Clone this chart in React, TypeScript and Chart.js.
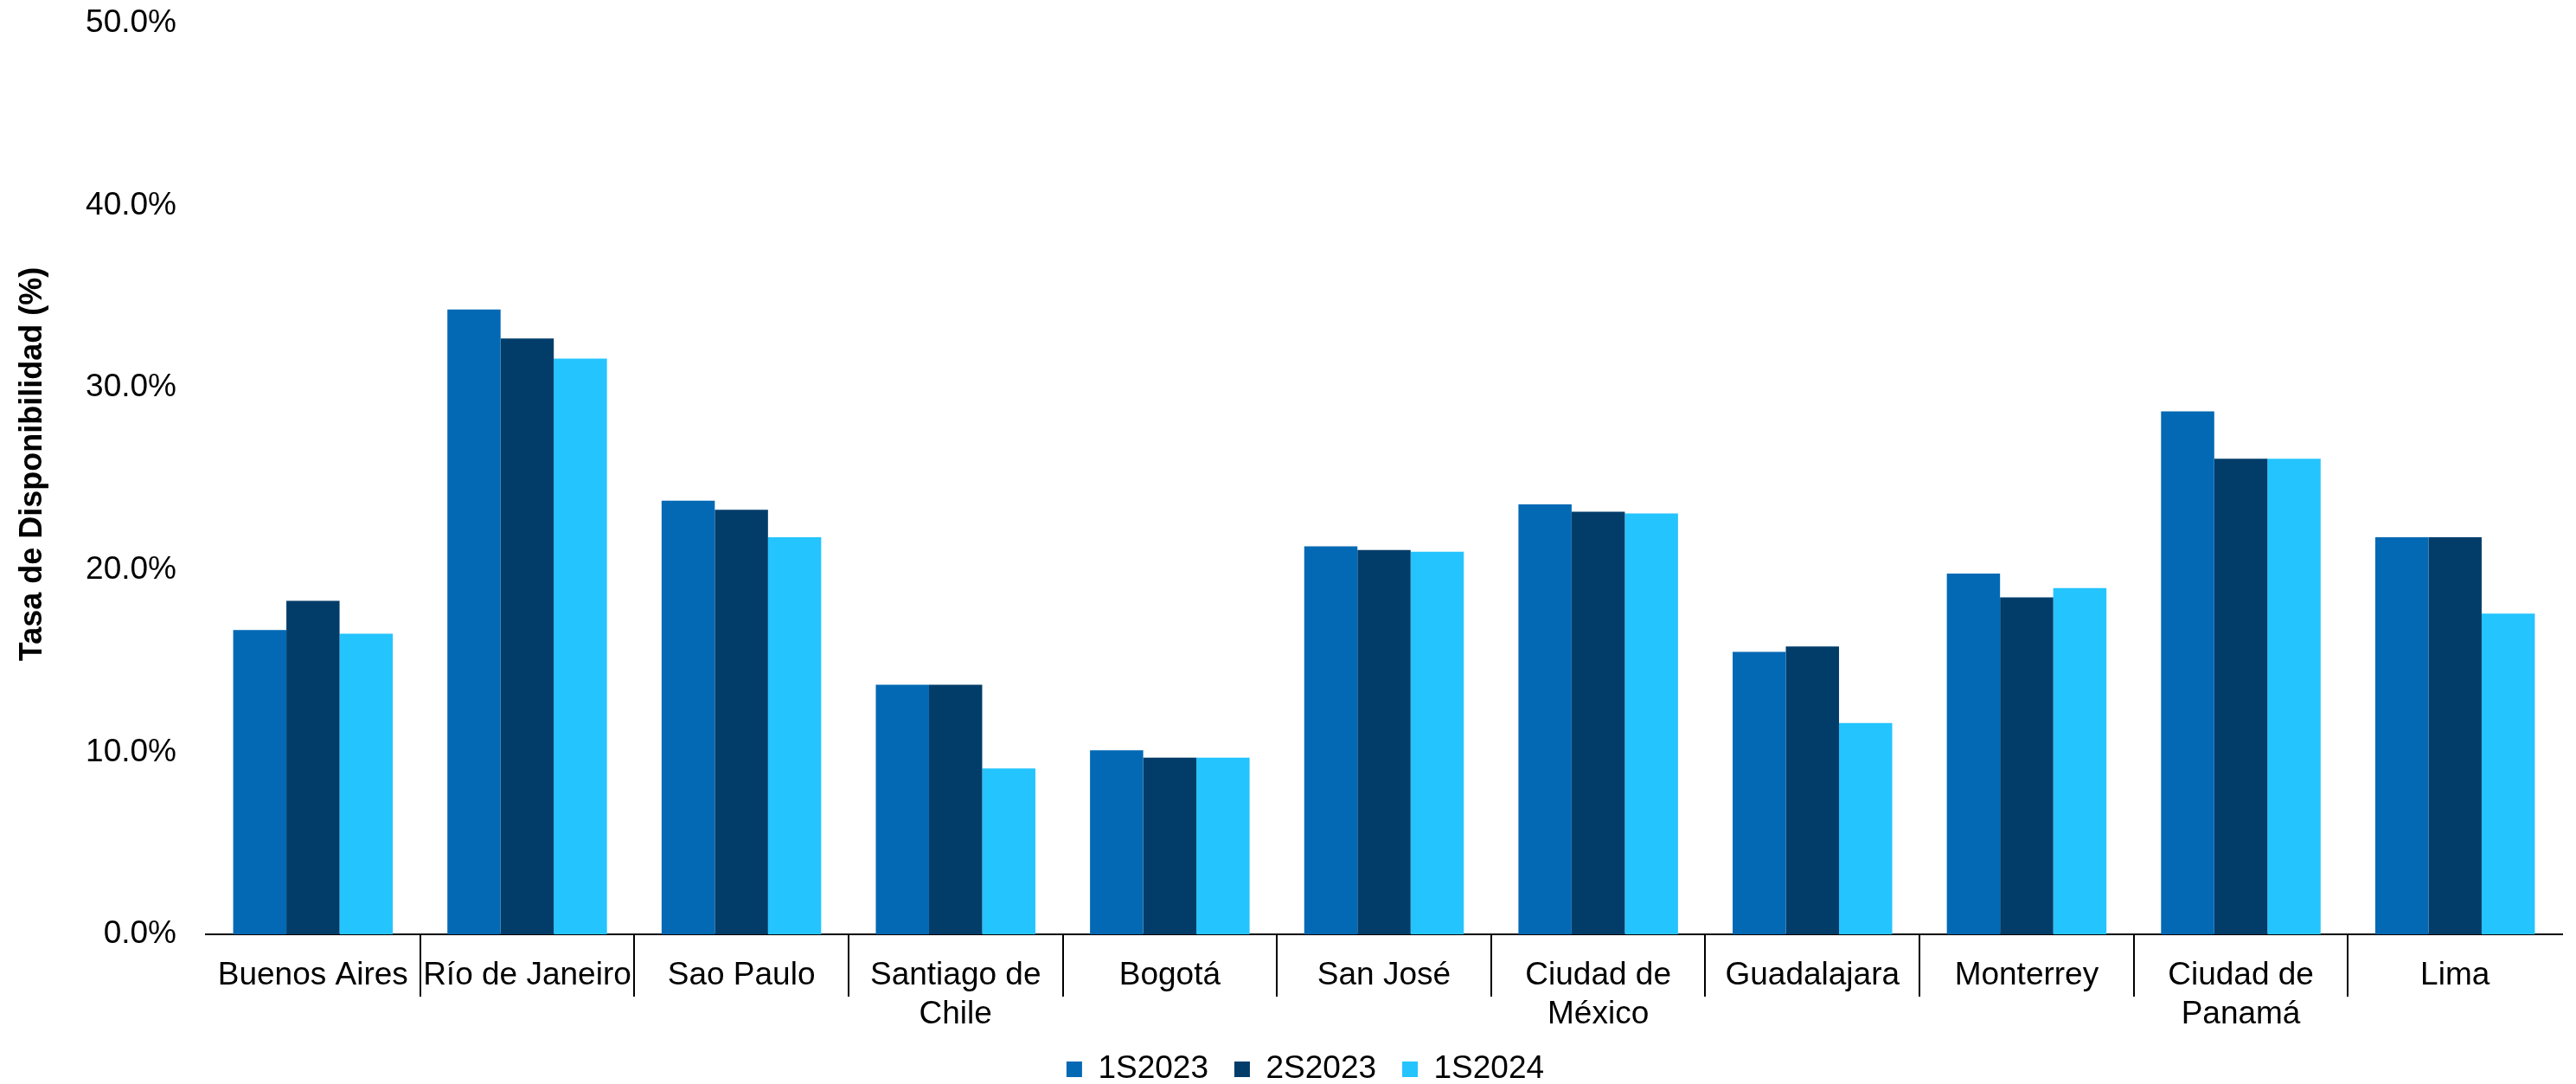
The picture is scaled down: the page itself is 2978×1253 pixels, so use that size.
import React, { useEffect, useRef } from 'react';
import { Chart, registerables } from 'chart.js';

Chart.register(...registerables);

const categories: (string | string[])[] = [
  'Buenos Aires',
  'Río de Janeiro',
  'Sao Paulo',
  ['Santiago de', 'Chile'],
  'Bogotá',
  'San José',
  ['Ciudad de', 'México'],
  'Guadalajara',
  'Monterrey',
  ['Ciudad de', 'Panamá'],
  'Lima',
];

const seriesNames = ['1S2023', '2S2023', '1S2024'];
const seriesColors = ['#0369B4', '#023D6A', '#24C4FF'];

const s1S2023 = [16.7, 34.3, 23.8, 13.7, 10.1, 21.3, 23.6, 15.5, 19.8, 28.7, 21.8];
const s2S2023 = [18.3, 32.7, 23.3, 13.7, 9.7, 21.1, 23.2, 15.8, 18.5, 26.1, 21.8];
const s1S2024 = [16.5, 31.6, 21.8, 9.1, 9.7, 21.0, 23.1, 11.6, 19.0, 26.1, 17.6];

const yMin = 0;
const yMax = 50;
const yStep = 10;
const yTitle = 'Tasa de Disponibilidad (%)';

const FONT = "'Liberation Sans', Arial, sans-serif";
const TITLE_SHIFT = 17;

// Small layout nudges: legend slightly right of canvas centre,
// y title slightly above the plot centre (shift only while the scale draws).
const layoutNudge = {
  id: 'layoutNudge',
  afterLayout(chart: any) {
    const lg = chart.legend;
    if (lg) {
      lg.left += 28;
      lg.right += 28;
    }
  },
  beforeDraw(chart: any) {
    const y = chart.scales.y;
    if (y) {
      y.top -= TITLE_SHIFT;
      y.bottom -= TITLE_SHIFT;
    }
  },
  beforeDatasetsDraw(chart: any) {
    const y = chart.scales.y;
    if (y) {
      y.top += TITLE_SHIFT;
      y.bottom += TITLE_SHIFT;
    }
  },
};

export default function App() {
  const ref = useRef<HTMLCanvasElement>(null);

  useEffect(() => {
    document.body.style.margin = '0';
    document.body.style.overflow = 'hidden';
    const canvas = ref.current;
    if (!canvas) return;
    const values = [s1S2023, s2S2023, s1S2024];
    const chart = new Chart(canvas, {
      type: 'bar',
      data: {
        labels: categories,
        datasets: values.map((v, i) => ({
          label: seriesNames[i],
          data: v,
          backgroundColor: seriesColors[i],
          borderWidth: 0,
          categoryPercentage: 0.745,
          barPercentage: 1,
        })),
      },
      options: {
        responsive: false,
        animation: false,
        devicePixelRatio: 1,
        layout: { padding: { top: 27, left: 0, right: 16, bottom: -11.5 } },
        plugins: {
          legend: {
            position: 'bottom',
            labels: {
              font: { family: FONT, size: 37 },
              color: '#000',
              boxWidth: 18,
              boxHeight: 18,
              padding: 30,
            },
          },
          tooltip: { enabled: false },
        },
        scales: {
          x: {
            grid: {
              display: true,
              drawOnChartArea: false,
              drawTicks: true,
              tickLength: 72,
              offset: true,
              lineWidth: 2,
              color: (ctx: any) =>
                ctx.type === 'tick' && ctx.index > 0 ? '#000' : 'rgba(0,0,0,0)',
            },
            border: { display: true, color: '#000', width: 2 },
            ticks: {
              font: { family: FONT, size: 37 },
              color: '#000',
              padding: -46,
              maxRotation: 0,
              minRotation: 0,
              autoSkip: false,
            },
            afterFit: (s: any) => {
              s.height = 107.5;
              s.paddingLeft = 0;
              s.paddingRight = 0;
            },
          },
          y: {
            min: yMin,
            max: yMax,
            ticks: {
              stepSize: yStep,
              callback: (v: any) => Number(v).toFixed(1) + '%',
              font: { family: FONT, size: 37 },
              color: '#000',
              padding: 34,
            },
            grid: { display: false, drawTicks: false },
            border: { display: false },
            title: {
              display: true,
              text: yTitle,
              font: { family: FONT, size: 36, weight: 'bold' },
              color: '#000',
              padding: { top: 16, bottom: 0 },
            },
            afterFit: (s: any) => {
              s.width = 238;
              s.paddingTop = 0;
              s.paddingBottom = 0;
            },
          },
        },
      } as any,
      plugins: [layoutNudge],
    });
    return () => chart.destroy();
  }, []);

  return (
    <div style={{ width: 2978, height: 1253 }}>
      <canvas ref={ref} width={2978} height={1253} style={{ display: 'block' }} />
    </div>
  );
}
